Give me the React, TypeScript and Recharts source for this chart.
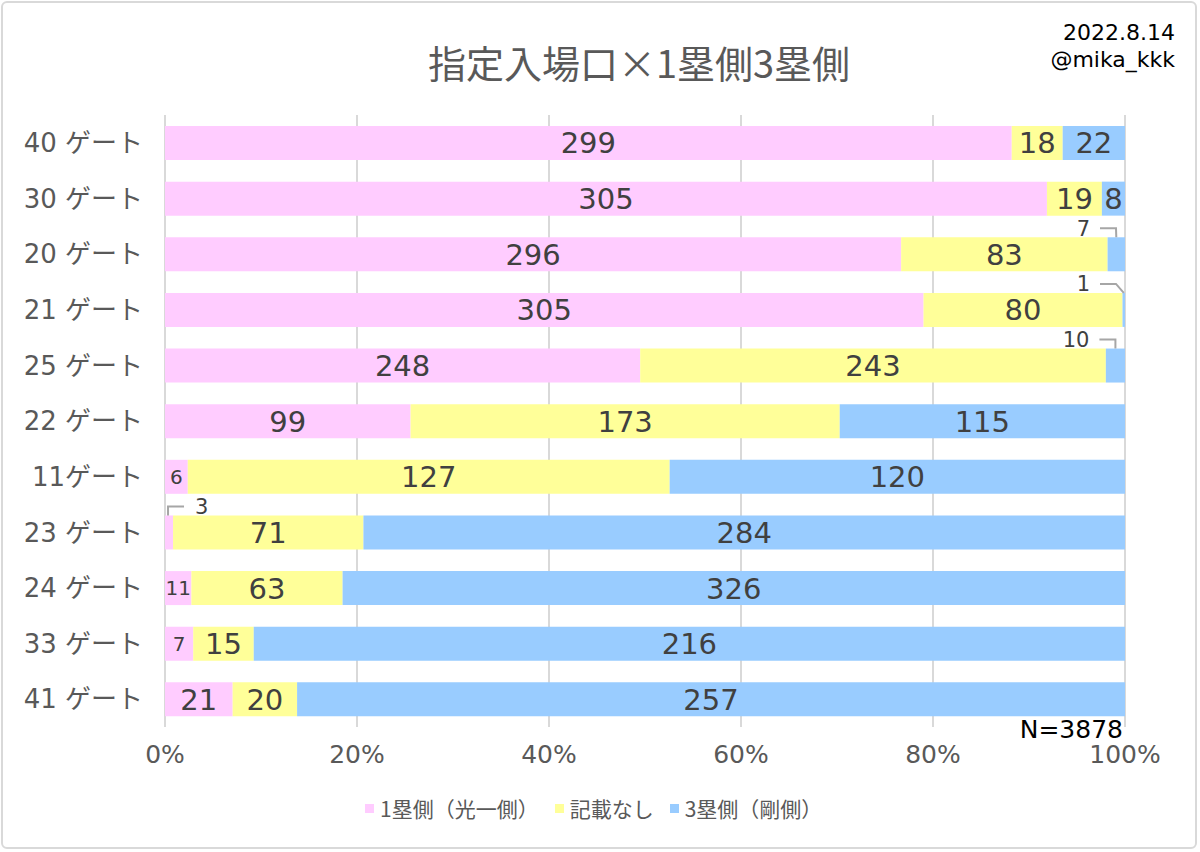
import React from "react";
import {
  Bar,
  BarChart,
  CartesianGrid,
  LabelList,
  XAxis,
  YAxis,
} from "recharts";

// gates, top to bottom
const gates = [
  "40 ゲート",
  "30 ゲート",
  "20 ゲート",
  "21 ゲート",
  "25 ゲート",
  "22 ゲート",
  "11ゲート",
  "23 ゲート",
  "24 ゲート",
  "33 ゲート",
  "41 ゲート",
];
const firstBase = [299, 305, 296, 305, 248, 99, 6, 3, 11, 7, 21];
const noEntry = [18, 19, 83, 80, 243, 173, 127, 71, 63, 15, 20];
const thirdBase = [22, 8, 7, 1, 10, 115, 120, 284, 326, 216, 257];
const xTicks = [0, 0.2, 0.4, 0.6, 0.8, 1];

const SERIES = [
  { key: "first", name: "1塁側（光一側）", color: "#FFCCFF" },
  { key: "none", name: "記載なし", color: "#FFFF99" },
  { key: "third", name: "3塁側（剛側）", color: "#99CCFF" },
];

const data = gates.map((g, i) => ({
  name: g,
  first: firstBase[i],
  none: noEntry[i],
  third: thirdBase[i],
}));

const NUM_FONT = "'DejaVu Sans', 'Noto Sans CJK JP', sans-serif";
const JP_FONT = "'Noto Sans CJK JP', 'DejaVu Sans', sans-serif";
const GREY = "#595959";
const LABEL = "#404040";

// segment label; tiny segments get a callout above the bar
const makeLabel = (side: "left" | "mid" | "right") => (props: any) => {
  const box = props.viewBox && props.viewBox.width !== undefined ? props.viewBox : props;
  const { x, y, width, height } = box;
  const value = props.value;
  const cx = x + width / 2;
  if (width >= 20) {
    const size = side === "left" && width < 35 ? 20 : 29;
    return (
      <text
        x={cx}
        y={y + height / 2}
        dy="0.36em"
        textAnchor="middle"
        fill={LABEL}
        fontSize={size}
        fontFamily={NUM_FONT}
      >
        {value}
      </text>
    );
  }
  const ty = y - 9;
  if (side === "right") {
    const corner = Math.min(cx, x + width - 9);
    return (
      <g>
        <polyline
          points={`${corner - 16},${ty} ${corner},${ty} ${cx},${y}`}
          fill="none"
          stroke="#a6a6a6"
          strokeWidth={2}
        />
        <text
          x={corner - 26}
          y={ty}
          dy="0.36em"
          textAnchor="end"
          fill={LABEL}
          fontSize={21}
          fontFamily={NUM_FONT}
        >
          {value}
        </text>
      </g>
    );
  }
  const corner = Math.max(cx - 1, x + 3);
  return (
    <g>
      <polyline
        points={`${corner + 16},${ty} ${corner},${ty} ${corner},${y}`}
        fill="none"
        stroke="#a6a6a6"
        strokeWidth={2}
      />
      <text
        x={corner + 27}
        y={ty}
        dy="0.36em"
        textAnchor="start"
        fill={LABEL}
        fontSize={21}
        fontFamily={NUM_FONT}
      >
        {value}
      </text>
    </g>
  );
};

export default function App() {
  const sides: ("left" | "mid" | "right")[] = ["left", "mid", "right"];
  return (
    <div
      style={{
        position: "absolute",
        left: 0,
        top: 0,
        width: 1200,
        height: 852,
        background: "#fff",
      }}
    >
      <div
        style={{
          position: "absolute",
          left: 1,
          top: 1,
          width: 1196,
          height: 848,
          border: "2px solid #d9d9d9",
          borderRadius: 6,
          boxSizing: "border-box",
        }}
      />
      <div
        style={{
          position: "absolute",
          left: 0,
          width: 1278,
          top: 37,
          textAlign: "center",
          fontFamily: JP_FONT,
          fontSize: 38,
          color: GREY,
          lineHeight: "50px",
        }}
      >
        指定入場口×1塁側3塁側
      </div>
      <div
        style={{
          position: "absolute",
          right: 25,
          top: 19,
          textAlign: "right",
          fontFamily: NUM_FONT,
          fontSize: 22,
          color: "#000",
          lineHeight: "27px",
        }}
      >
        2022.8.14
        <br />
        @mika_kkk
      </div>
      <BarChart
        width={1200}
        height={852}
        data={data}
        layout="vertical"
        stackOffset="expand"
        margin={{ top: 115, right: 75, bottom: 85, left: 0 }}
        style={{ position: "absolute", left: 0, top: 0 }}
      >
        <CartesianGrid horizontal={false} stroke="#d9d9d9" strokeWidth={2} />
        <XAxis
          type="number"
          domain={[0, 1]}
          ticks={xTicks}
          height={40}
          tickLine={false}
          axisLine={false}
          tickMargin={12}
          tickFormatter={(v: number) => `${Math.round(v * 100)}%`}
          tick={{ fill: GREY, fontSize: 25, fontFamily: NUM_FONT }}
        />
        <YAxis
          type="category"
          dataKey="name"
          width={165}
          tickLine={false}
          axisLine={false}
          tickMargin={16}
          interval={0}
          tick={{ fill: GREY, fontSize: 26, fontFamily: NUM_FONT }}
        />
        {SERIES.map((s, i) => (
          <Bar
            key={s.key}
            dataKey={s.key}
            name={s.name}
            stackId="a"
            fill={s.color}
            barSize={34}
            isAnimationActive={false}
          >
            <LabelList dataKey={s.key} content={makeLabel(sides[i])} />
          </Bar>
        ))}
        <text
          x={1123}
          y={738}
          textAnchor="end"
          fontSize={25}
          fontFamily={NUM_FONT}
          fill="#000"
        >
          N=3878
        </text>
      </BarChart>
      <div
        style={{
          position: "absolute",
          left: 365,
          top: 793,
          display: "flex",
          alignItems: "center",
          fontFamily: JP_FONT,
          fontSize: 21,
          color: GREY,
          lineHeight: "30px",
        }}
      >
        {SERIES.map((s, i) => (
          <div
            key={s.key}
            style={{
              display: "flex",
              alignItems: "center",
              marginRight: i < SERIES.length - 1 ? 16 : 0,
            }}
          >
            <span
              style={{
                display: "inline-block",
                width: 9,
                height: 9,
                background: s.color,
                marginRight: 6,
              }}
            />
            {s.name}
          </div>
        ))}
      </div>
    </div>
  );
}
